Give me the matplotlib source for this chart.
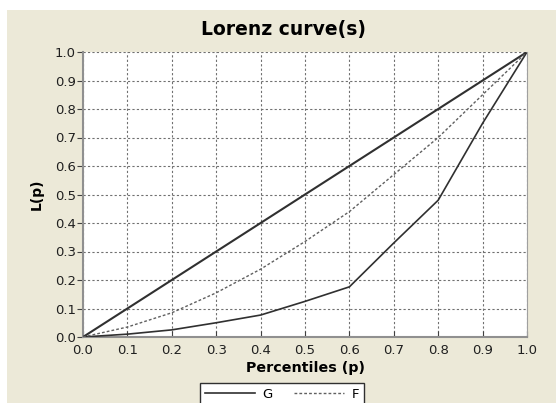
import matplotlib.pyplot as plt
from matplotlib.patches import Rectangle

# ---------------------------
# Data
# ---------------------------
p_equal = [0.0, 1.0]
L_equal = [0.0, 1.0]

p_g = [0.0, 0.1, 0.2, 0.3, 0.4, 0.5, 0.6, 0.7, 0.8, 0.9, 1.0]
L_g = [0.0, 0.01, 0.025, 0.05, 0.077, 0.125, 0.176, 0.33, 0.48, 0.75, 1.0]

p_f = [0.0, 0.1, 0.2, 0.3, 0.4, 0.5, 0.6, 0.7, 0.8, 0.9, 1.0]
L_f = [0.0, 0.035, 0.085, 0.155, 0.238, 0.335, 0.44, 0.57, 0.70, 0.85, 1.0]

ticks = [0.0, 0.1, 0.2, 0.3, 0.4, 0.5, 0.6, 0.7, 0.8, 0.9, 1.0]
tick_labels = ["0.0", "0.1", "0.2", "0.3", "0.4", "0.5", "0.6", "0.7", "0.8", "0.9", "1.0"]

# ---------------------------
# Figure
# ---------------------------
bg = "#ECE9D8"
W, H = 556, 403
fig = plt.figure(figsize=(W / 100, H / 100), dpi=100)
fig.patch.set_facecolor("white")
fig.patches.append(Rectangle((7 / W, -0.2), 2, 1.2 - 10 / H, transform=fig.transFigure,
                             facecolor=bg, edgecolor="none", zorder=-10))

ax = fig.add_axes([83 / W, 1 - 337 / H, 444 / W, 285 / H])
ax.set_facecolor("white")

ax.plot(p_equal, L_equal, color="#303030", lw=1.5, zorder=3)
ax.plot(p_g, L_g, color="#303030", lw=1.2, label="G", zorder=3)
ax.plot(p_f, L_f, color="#606060", lw=1.0, linestyle=(0, (2, 1.5)), label="F", zorder=3)

ax.set_xlim(0, 1)
ax.set_ylim(0, 1)
ax.set_xticks(ticks)
ax.set_xticklabels(tick_labels)
ax.set_yticks(ticks)
ax.set_yticklabels(tick_labels)
ax.tick_params(labelsize=9.5, width=0.8, color="#404040", labelcolor="#202020")
ax.tick_params(axis="x", direction="in", length=4, pad=5)
ax.tick_params(axis="y", direction="out", length=4, pad=1)
ax.grid(True, color="#707070", linestyle=(0, (2, 2)), linewidth=0.8)

for side in ["left", "bottom"]:
    ax.spines[side].set_color("#909090")
    ax.spines[side].set_linewidth(1.5)
ax.spines["right"].set_color("#a0a0a0")
ax.spines["top"].set_visible(False)

fig.text(283 / W, 1 - 29 / H, "Lorenz curve(s)", fontsize=13.5, fontweight="bold",
         ha="center", va="center")
ax.set_xlabel("Percentiles (p)", fontsize=10.3, fontweight="bold", labelpad=3)
ax.set_ylabel("L(p)", fontsize=10, fontweight="bold", labelpad=8)

leg = fig.legend(loc="upper left", bbox_to_anchor=(200 / W, 1 - 383 / H), ncol=2,
                 fontsize=9.5, frameon=True, fancybox=False, handlelength=3.8,
                 columnspacing=1.6, borderpad=0.35, handletextpad=0.6,
                 borderaxespad=0)
leg.get_frame().set_edgecolor("#303030")
leg.get_frame().set_linewidth(1.0)
leg.get_frame().set_facecolor("white")
leg.get_frame().set_alpha(1)

plt.savefig("out.png", dpi=100, facecolor=fig.get_facecolor())
